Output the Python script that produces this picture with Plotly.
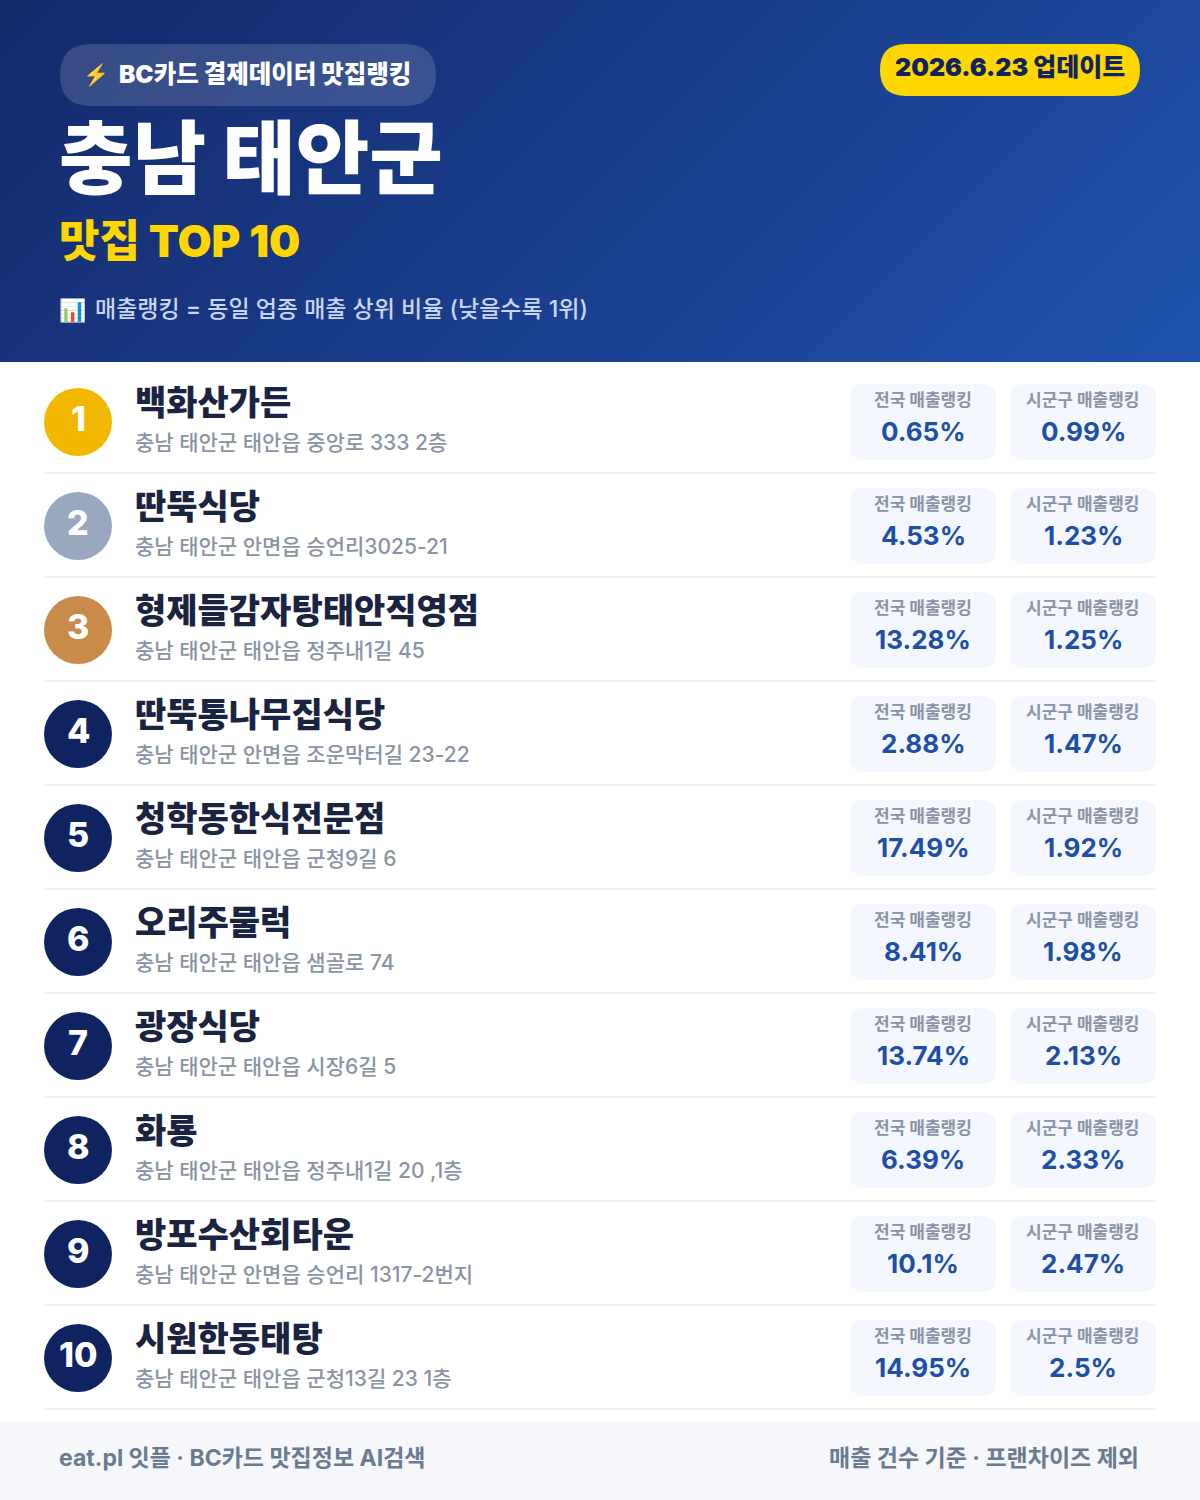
import plotly.graph_objects as go

FONT = "Inter, Noto Sans CJK KR"

names = [
    "백화산가든", "딴뚝식당", "형제들감자탕태안직영점", "딴뚝통나무집식당", "청학동한식전문점",
    "오리주물럭", "광장식당", "화룡", "방포수산회타운", "시원한동태탕",
]
addresses = [
    "충남 태안군 태안읍 중앙로 333 2층",
    "충남 태안군 안면읍 승언리3025-21",
    "충남 태안군 태안읍 정주내1길 45",
    "충남 태안군 안면읍 조운막터길 23-22",
    "충남 태안군 태안읍 군청9길 6",
    "충남 태안군 태안읍 샘골로 74",
    "충남 태안군 태안읍 시장6길 5",
    "충남 태안군 태안읍 정주내1길 20 ,1층",
    "충남 태안군 안면읍 승언리 1317-2번지",
    "충남 태안군 태안읍 군청13길 23 1층",
]
national_rank = [0.65, 4.53, 13.28, 2.88, 17.49, 8.41, 13.74, 6.39, 10.1, 14.95]
local_rank = [0.99, 1.23, 1.25, 1.47, 1.92, 1.98, 2.13, 2.33, 2.47, 2.5]
medal_colors = ["#f2b800", "#9aa8bf", "#c98b4a"]
navy = "#0f2360"


def rounded(x0, y0, x1, y1, r):
    return (
        f"M{x0+r},{y0} L{x1-r},{y0} Q{x1},{y0} {x1},{y0+r} L{x1},{y1-r} Q{x1},{y1} {x1-r},{y1} "
        f"L{x0+r},{y1} Q{x0},{y1} {x0},{y1-r} L{x0},{y0+r} Q{x0},{y0} {x0+r},{y0} Z"
    )


shapes = []
annotations = []


def box(x0, y0, x1, y1, color):
    shapes.append(dict(type="rect", x0=x0, y0=y0, x1=x1, y1=y1, fillcolor=color, line_width=0))


def pill(x0, y0, x1, y1, r, color):
    shapes.append(dict(type="path", path=rounded(x0, y0, x1, y1, r), fillcolor=color, line_width=0))


def label(x, y, text, size, color, weight=400, anchor="left"):
    annotations.append(
        dict(
            x=x, y=y, text=text, showarrow=False, xanchor=anchor, yanchor="middle",
            xref="x", yref="y", borderpad=0,
            font=dict(family=FONT, size=size, color=color, weight=weight),
        )
    )


# header gradient, corners of a 135deg css gradient
header = go.Heatmap(
    x=[0, 1200],
    y=[0, 362],
    z=[[0, 0.768], [0.232, 1]],
    zsmooth="best",
    showscale=False,
    hoverinfo="skip",
    colorscale=[[0, "#14296a"], [1, "#1f52ae"]],
)

box(0, 362, 1200, 1500, "#ffffff")
box(0, 1422, 1200, 1500, "#f5f7fa")

pill(60, 44, 436, 106, 31, "rgba(255,255,255,0.15)")
pill(880, 44, 1140, 96, 26, "#ffd600")
label(82, 75, "⚡", 21, "#ffd600")
label(118, 74, "BC카드 결제데이터 맛집랭킹", 24.5, "#ffffff", 900)
label(1010, 67, "2026.6.23 업데이트", 25, navy, 900, "center")
label(58, 157, "충남 태안군", 80, "#ffffff", 900)
label(58, 241, "맛집 TOP 10", 44, "#ffd600", 900)
label(58, 310, "📊", 22, "#ffffff")
label(94, 309, "매출랭킹 = 동일 업종 매출 상위 비율 (낮을수록 1위)", 23, "#c8d6f0", 500)

# ranking rows
for i in range(len(names)):
    top = 104 * i
    color = medal_colors[i] if i < 3 else navy
    shapes.append(
        dict(type="circle", x0=44, y0=388 + top, x1=112, y1=456 + top, fillcolor=color, line_width=0)
    )
    label(78, 418 + top, str(i + 1), 34, "#ffffff", 800, "center")
    label(134, 402 + top, names[i], 34, "#1a2340", 900)
    label(134, 442 + top, addresses[i], 21, "#8a94a6", 500)
    box(44, 472 + top, 1156, 474 + top, "#eef0f4")
    pill(850, 384 + top, 996, 460 + top, 14, "#f4f7fd")
    pill(1010, 384 + top, 1156, 460 + top, 14, "#f4f7fd")
    label(923, 400 + top, "전국 매출랭킹", 17, "#8a94a6", 700, "center")
    label(1083, 400 + top, "시군구 매출랭킹", 17, "#8a94a6", 700, "center")
    label(923, 431 + top, f"{national_rank[i]}%", 26, "#1e4fa8", 700, "center")
    label(1083, 431 + top, f"{local_rank[i]}%", 26, "#1e4fa8", 700, "center")

label(58, 1458, "eat.pl 잇플 · BC카드 맛집정보 AI검색", 23, "#6b7a90", 700)
label(1140, 1458, "매출 건수 기준 · 프랜차이즈 제외", 23, "#6b7a90", 700, "right")

fig = go.Figure(data=[header])
fig.update_layout(
    width=1200,
    height=1500,
    margin=dict(l=0, r=0, t=0, b=0),
    paper_bgcolor="#ffffff",
    plot_bgcolor="#ffffff",
    shapes=shapes,
    annotations=annotations,
    showlegend=False,
)
fig.update_xaxes(range=[0, 1200], visible=False, fixedrange=True)
fig.update_yaxes(range=[1500, 0], visible=False, fixedrange=True)
fig.write_html(
    "out.html",
    config=dict(displayModeBar=False),
    post_script="document.body.style.margin='0';",
)
